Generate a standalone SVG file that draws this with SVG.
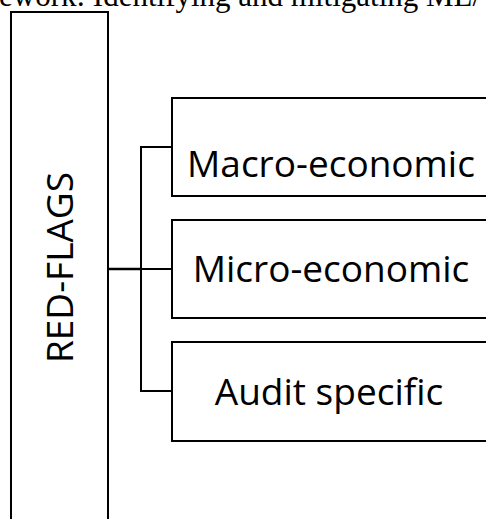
<svg xmlns="http://www.w3.org/2000/svg" width="486" height="519" viewBox="0 0 486 519">
<style>
.box{fill:#fff;stroke:#000;stroke-width:2}
.lbl{font-family:"Open Sans","Noto Sans",sans-serif;font-size:37px;fill:#000}
.title{font-family:"Liberation Serif","Times New Roman",serif;font-size:31px;fill:#000}
.conn{fill:none;stroke:#000;stroke-width:2}
</style>
<rect width="486" height="519" fill="#fff"/>
<text class="title" x="-1" y="6">ework: Identifying and mitigating ML/</text>
<g id="connectors">
<path class="conn" d="M172 147 H141 V391 H172 M141 269 H172"/>
<path class="conn" style="stroke-width:2.5" d="M109 269 H141"/>
</g>
<g id="redflags">
<rect class="box" x="11" y="12" width="97" height="520"/>
<text class="lbl" transform="translate(73,267.5) rotate(-90)" text-anchor="middle">RED-FLAGS</text>
</g>
<g id="macro">
<rect class="box" x="172" y="98" width="330" height="98"/>
<text class="lbl" x="331" y="177" text-anchor="middle">Macro-economic</text>
</g>
<g id="micro">
<rect class="box" x="172" y="220" width="330" height="98"/>
<text class="lbl" x="331" y="282" text-anchor="middle">Micro-economic</text>
</g>
<g id="audit">
<rect class="box" x="172" y="342" width="330" height="99"/>
<text class="lbl" x="329" y="405" text-anchor="middle">Audit specific</text>
</g>
</svg>
